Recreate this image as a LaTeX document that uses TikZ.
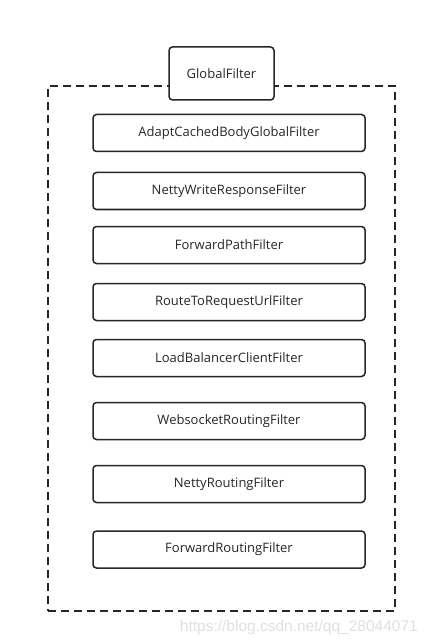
\documentclass[tikz,border=0pt]{standalone}
\usepackage{fontspec}
\setmainfont{Open Sans}
\newfontfamily\wmfont{Liberation Sans}
\begin{document}
\begin{tikzpicture}[x=1pt,y=-1pt,
  fbox/.style={draw=black!85, line width=1.5pt, rounded corners=3.5pt, fill=white,
    minimum width=272pt, minimum height=37pt, inner sep=0pt, text=black!85, font=\fontsize{13}{15}\selectfont},
  gbox/.style={fbox, minimum width=105pt, minimum height=53pt},
  frame/.style={draw=black!85, line width=1.5pt, dash pattern=on 8pt off 5pt}]
\useasboundingbox (0,0) rectangle (427,644);
\fill[white] (0,0) rectangle (427,644);
\node[frame, minimum width=347pt, minimum height=525pt, inner sep=0pt] (frm) at (221.5,348.5) {};
\node[gbox] (g) at (221.5,73.5) {GlobalFilter};
\node[fbox] (f1) at (229,133) {AdaptCachedBodyGlobalFilter};
\node[fbox] (f2) at (229,191) {NettyWriteResponseFilter};
\node[fbox] (f3) at (229,245) {ForwardPathFilter};
\node[fbox] (f4) at (229,302) {RouteToRequestUrlFilter};
\node[fbox] (f5) at (229,358) {LoadBalancerClientFilter};
\node[fbox] (f6) at (229,421) {WebsocketRoutingFilter};
\node[fbox] (f7) at (229,484) {NettyRoutingFilter};
\node[fbox] (f8) at (229,549.5) {ForwardRoutingFilter};
\node[text=black!12, font=\wmfont\fontsize{15.5}{17}\selectfont, anchor=east, inner sep=0pt] (wm) at (418,627) {https://blog.csdn.net/qq\_28044071};
\end{tikzpicture}
\end{document}
